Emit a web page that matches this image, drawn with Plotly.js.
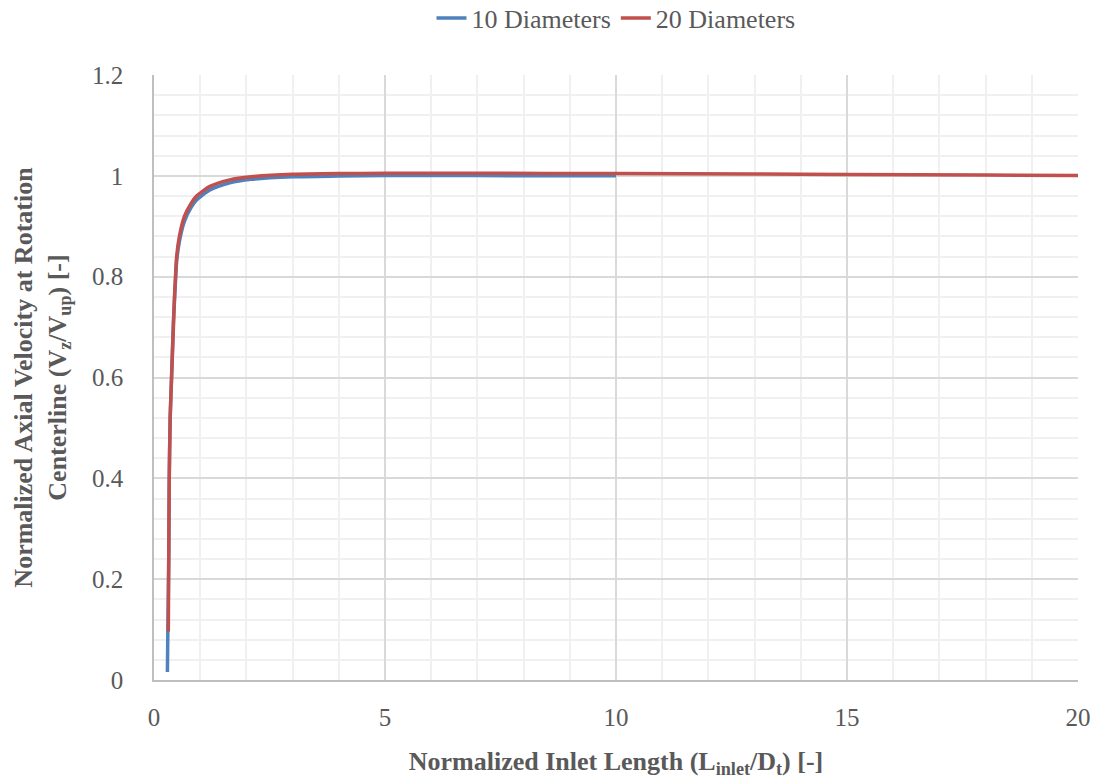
<!DOCTYPE html>
<html>
<head>
<meta charset="utf-8">
<script src="https://cdn.plot.ly/plotly-3.0.1.min.js"></script>
<style>html,body{margin:0;padding:0;background:#fff;}</style>
</head>
<body>
<div id="chart"></div>
<script>
// 10 Diameters series
const x10 = [0.29, 0.30, 0.32, 0.33, 0.35, 0.38, 0.42, 0.44, 0.49, 0.55, 0.66, 0.80, 0.92, 1.21, 1.64, 2.1, 3, 4, 5, 7, 10];
const y10 = [0.016, 0.10, 0.25, 0.40, 0.52, 0.60, 0.71, 0.745, 0.83, 0.87, 0.91, 0.937, 0.952, 0.972, 0.986, 0.993, 0.998, 0.9995, 1.0005, 1.0005, 1.000];
// 20 Diameters series
const x20 = [0.31, 0.32, 0.33, 0.35, 0.38, 0.42, 0.44, 0.46, 0.49, 0.55, 0.66, 0.80, 0.92, 1.21, 1.64, 2.1, 3, 4, 5, 7, 10, 13, 15, 18, 20];
const y20 = [0.096, 0.25, 0.40, 0.52, 0.60, 0.70, 0.754, 0.79, 0.84, 0.88, 0.92, 0.945, 0.96, 0.979, 0.992, 0.998, 1.003, 1.0045, 1.005, 1.005, 1.0046, 1.0035, 1.0026, 1.0015, 1.0006];
const seriesNames = ["10 Diameters", "20 Diameters"];
const xTicks = [0, 5, 10, 15, 20];
const yTicks = [0, 0.2, 0.4, 0.6, 0.8, 1, 1.2];

const FONT = "Liberation Serif, Times New Roman, serif";
const traces = [
  {x: x10, y: y10, name: seriesNames[0], type: 'scatter', mode: 'lines',
   line: {color: '#4F81BD', width: 3.5, shape: 'spline', smoothing: 0.6}},
  {x: x20, y: y20, name: seriesNames[1], type: 'scatter', mode: 'lines',
   line: {color: '#C0504D', width: 3.5, shape: 'spline', smoothing: 0.6}}
];
const layout = {
  width: 1103, height: 784,
  margin: {l: 154, r: 25, t: 75, b: 104, autoexpand: false},
  font: {family: FONT, color: '#595959', size: 25},
  legend: {orientation: 'h', x: 0.5, xanchor: 'center', y: 1.094, yanchor: 'middle',
           font: {family: FONT, size: 26, color: '#595959'}},
  xaxis: {
    range: [0, 20], tickvals: xTicks, ticktext: xTicks.map(String),
    gridcolor: '#d9d9d9', gridwidth: 1.5,
    minor: {dtick: 1, showgrid: true, gridcolor: '#f0f0f0', gridwidth: 1.5},
    showline: true, linecolor: '#bfbfbf', linewidth: 1.5, zeroline: false,
    ticklabelstandoff: 14, automargin: false,
    tickfont: {family: FONT, size: 25, color: '#595959'},
    title: {text: '<b>Normalized Inlet Length (L<sub>inlet</sub>/D<sub>t</sub>) [-]</b>',
            font: {family: FONT, size: 26, color: '#595959'}, standoff: 22}
  },
  yaxis: {
    range: [0, 1.2], tickvals: yTicks, ticktext: yTicks.map(String),
    gridcolor: '#d9d9d9', gridwidth: 1.5,
    minor: {dtick: 0.04, showgrid: true, gridcolor: '#f0f0f0', gridwidth: 1.5},
    showline: true, linecolor: '#bfbfbf', linewidth: 1.5, zeroline: false,
    ticklabelstandoff: 24, automargin: false,
    tickfont: {family: FONT, size: 25, color: '#595959'},
    title: {text: '<b>Normalized Axial Velocity at Rotation<br>Centerline (V<sub>z</sub>/V<sub>up</sub>) [-]</b>',
            font: {family: FONT, size: 26, color: '#595959'}, standoff: 18}
  }
};
Plotly.newPlot('chart', traces, layout, {displayModeBar: false});
</script>
</body>
</html>
